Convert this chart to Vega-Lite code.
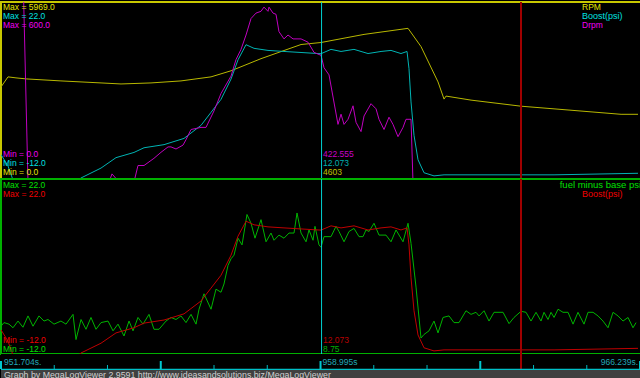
{
  "$schema": "https://vega.github.io/schema/vega-lite/v6.json",
  "background": "black",
  "padding": 0,
  "spacing": 0,
  "bounds": "flush",
  "config": {
    "view": {"stroke": null}
  },
  "datasets": {
    "rpm": [
      {"time": 951.704, "rpm": 3103}, {"time": 951.863, "rpm": 3444}, {"time": 952.045, "rpm": 3410},
      {"time": 952.273, "rpm": 3376}, {"time": 953.068, "rpm": 3308}, {"time": 953.979, "rpm": 3240},
      {"time": 954.434, "rpm": 3205}, {"time": 955.116, "rpm": 3240}, {"time": 955.798, "rpm": 3308},
      {"time": 956.481, "rpm": 3444}, {"time": 956.936, "rpm": 3649}, {"time": 957.163, "rpm": 3785},
      {"time": 957.618, "rpm": 4058}, {"time": 958.073, "rpm": 4297}, {"time": 958.528, "rpm": 4535},
      {"time": 958.983, "rpm": 4603}, {"time": 959.961, "rpm": 4876}, {"time": 960.962, "rpm": 5081},
      {"time": 961.257, "rpm": 4467}, {"time": 961.644, "rpm": 3274}, {"time": 961.781, "rpm": 2694},
      {"time": 961.826, "rpm": 2796}, {"time": 962.395, "rpm": 2660}, {"time": 963.532, "rpm": 2455},
      {"time": 964.669, "rpm": 2319}, {"time": 965.807, "rpm": 2182}, {"time": 966.193, "rpm": 2182}
    ],
    "boost": [
      {"time": 951.704, "boost": -7.3}, {"time": 951.863, "boost": -9.5}, {"time": 951.977, "boost": -12.2},
      {"time": 952.386, "boost": -13.2}, {"time": 952.955, "boost": -13.5}, {"time": 953.41, "boost": -12.6},
      {"time": 953.524, "boost": -11.8}, {"time": 953.979, "boost": -9.9}, {"time": 954.32, "boost": -7.9},
      {"time": 954.729, "boost": -6.9}, {"time": 954.957, "boost": -6.0}, {"time": 955.412, "boost": -5.4},
      {"time": 955.867, "boost": -4.2}, {"time": 956.253, "boost": -1.7}, {"time": 956.481, "boost": 0.8},
      {"time": 956.708, "boost": 3.3}, {"time": 956.936, "boost": 7.2}, {"time": 957.095, "boost": 10.9},
      {"time": 957.277, "boost": 13.8}, {"time": 957.459, "boost": 13.1}, {"time": 957.777, "boost": 12.7},
      {"time": 958.141, "boost": 12.5}, {"time": 958.528, "boost": 12.3}, {"time": 958.915, "boost": 12.1},
      {"time": 958.983, "boost": 12.07}, {"time": 959.21, "boost": 12.9}, {"time": 959.438, "boost": 12.5},
      {"time": 959.733, "boost": 12.9}, {"time": 960.052, "boost": 12.1}, {"time": 960.348, "boost": 12.5},
      {"time": 960.575, "boost": 12.7}, {"time": 960.802, "boost": 12.1}, {"time": 960.939, "boost": 12.5},
      {"time": 960.984, "boost": 9.2}, {"time": 961.03, "boost": 2.8}, {"time": 961.098, "boost": -3.6},
      {"time": 961.189, "boost": -8.3}, {"time": 961.326, "boost": -10.8}, {"time": 961.553, "boost": -11.4},
      {"time": 961.781, "boost": -11.2}, {"time": 962.781, "boost": -11.2}, {"time": 964.283, "boost": -11.2},
      {"time": 965.579, "boost": -11.0}, {"time": 966.193, "boost": -10.9}
    ],
    "drpm": [
      {"time": 952.204, "drpm": 700}, {"time": 952.318, "drpm": 0}, {"time": 954.161, "drpm": 0},
      {"time": 954.229, "drpm": 27}, {"time": 954.388, "drpm": 0}, {"time": 954.729, "drpm": 0},
      {"time": 954.82, "drpm": 55}, {"time": 954.957, "drpm": 55}, {"time": 955.184, "drpm": 79},
      {"time": 955.343, "drpm": 99}, {"time": 955.503, "drpm": 117}, {"time": 955.571, "drpm": 117},
      {"time": 955.685, "drpm": 110}, {"time": 955.844, "drpm": 123}, {"time": 955.912, "drpm": 141},
      {"time": 956.026, "drpm": 175}, {"time": 956.253, "drpm": 182}, {"time": 956.367, "drpm": 182},
      {"time": 956.549, "drpm": 237}, {"time": 956.708, "drpm": 295}, {"time": 956.936, "drpm": 353},
      {"time": 957.049, "drpm": 408}, {"time": 957.163, "drpm": 442}, {"time": 957.277, "drpm": 490},
      {"time": 957.391, "drpm": 545}, {"time": 957.504, "drpm": 563}, {"time": 957.618, "drpm": 569},
      {"time": 957.686, "drpm": 583}, {"time": 957.777, "drpm": 569}, {"time": 957.8, "drpm": 583},
      {"time": 957.891, "drpm": 563}, {"time": 957.959, "drpm": 559}, {"time": 958.027, "drpm": 501},
      {"time": 958.141, "drpm": 477}, {"time": 958.232, "drpm": 490}, {"time": 958.346, "drpm": 477},
      {"time": 958.528, "drpm": 477}, {"time": 958.687, "drpm": 466}, {"time": 958.824, "drpm": 432},
      {"time": 958.937, "drpm": 425}, {"time": 958.983, "drpm": 422.555}, {"time": 959.051, "drpm": 381},
      {"time": 959.165, "drpm": 357}, {"time": 959.369, "drpm": 192}, {"time": 959.438, "drpm": 226},
      {"time": 959.506, "drpm": 192}, {"time": 959.597, "drpm": 209}, {"time": 959.711, "drpm": 254},
      {"time": 959.779, "drpm": 199}, {"time": 959.893, "drpm": 168}, {"time": 959.961, "drpm": 220},
      {"time": 960.12, "drpm": 261}, {"time": 960.234, "drpm": 244}, {"time": 960.302, "drpm": 209},
      {"time": 960.416, "drpm": 175}, {"time": 960.529, "drpm": 216}, {"time": 960.62, "drpm": 192},
      {"time": 960.734, "drpm": 151}, {"time": 960.848, "drpm": 182}, {"time": 960.916, "drpm": 209},
      {"time": 961.03, "drpm": 209}, {"time": 961.075, "drpm": 0}, {"time": 966.193, "drpm": 0}
    ],
    "fuel": [
      {"time": 951.704, "fuel": -6.6}, {"time": 951.772, "fuel": -5.9}, {"time": 951.886, "fuel": -6.2},
      {"time": 951.977, "fuel": -6.9}, {"time": 952.091, "fuel": -5.6}, {"time": 952.204, "fuel": -6.8},
      {"time": 952.318, "fuel": -4.6}, {"time": 952.432, "fuel": -6.6}, {"time": 952.568, "fuel": -4.6},
      {"time": 952.682, "fuel": -5.6}, {"time": 952.773, "fuel": -5.3}, {"time": 952.91, "fuel": -6.2},
      {"time": 953.068, "fuel": -5.6}, {"time": 953.183, "fuel": -6.2}, {"time": 953.342, "fuel": -4.3},
      {"time": 953.41, "fuel": -9.2}, {"time": 953.524, "fuel": -5.3}, {"time": 953.637, "fuel": -7.2},
      {"time": 953.751, "fuel": -4.9}, {"time": 953.865, "fuel": -7.2}, {"time": 953.979, "fuel": -5.9},
      {"time": 954.138, "fuel": -5.6}, {"time": 954.252, "fuel": -7.5}, {"time": 954.365, "fuel": -6.2},
      {"time": 954.502, "fuel": -8.5}, {"time": 954.616, "fuel": -5.6}, {"time": 954.707, "fuel": -7.5},
      {"time": 954.82, "fuel": -4.9}, {"time": 954.934, "fuel": -6.2}, {"time": 955.07, "fuel": -4.3},
      {"time": 955.184, "fuel": -7.2}, {"time": 955.298, "fuel": -7.2}, {"time": 955.457, "fuel": -5.6},
      {"time": 955.571, "fuel": -4.9}, {"time": 955.685, "fuel": -5.3}, {"time": 955.798, "fuel": -4.6},
      {"time": 955.912, "fuel": -5.9}, {"time": 956.026, "fuel": -4.3}, {"time": 956.14, "fuel": -6.2},
      {"time": 956.208, "fuel": -3.3}, {"time": 956.321, "fuel": -0.3}, {"time": 956.481, "fuel": -3.3},
      {"time": 956.594, "fuel": 0.6}, {"time": 956.708, "fuel": 0.0}, {"time": 956.776, "fuel": 1.6},
      {"time": 956.867, "fuel": 5.2}, {"time": 956.936, "fuel": 6.5}, {"time": 957.004, "fuel": 7.2},
      {"time": 957.095, "fuel": 10.5}, {"time": 957.186, "fuel": 9.2}, {"time": 957.299, "fuel": 15.1},
      {"time": 957.391, "fuel": 13.4}, {"time": 957.481, "fuel": 10.5}, {"time": 957.618, "fuel": 14.1},
      {"time": 957.732, "fuel": 9.8}, {"time": 957.845, "fuel": 11.5}, {"time": 957.914, "fuel": 10.1},
      {"time": 958.027, "fuel": 11.1}, {"time": 958.141, "fuel": 10.5}, {"time": 958.255, "fuel": 11.5},
      {"time": 958.369, "fuel": 11.5}, {"time": 958.437, "fuel": 15.4}, {"time": 958.528, "fuel": 11.5},
      {"time": 958.642, "fuel": 9.8}, {"time": 958.71, "fuel": 12.1}, {"time": 958.801, "fuel": 10.1},
      {"time": 958.846, "fuel": 12.8}, {"time": 958.937, "fuel": 9.2}, {"time": 958.983, "fuel": 8.75},
      {"time": 959.051, "fuel": 10.8}, {"time": 959.21, "fuel": 10.8}, {"time": 959.324, "fuel": 12.8},
      {"time": 959.392, "fuel": 11.8}, {"time": 959.506, "fuel": 9.8}, {"time": 959.62, "fuel": 11.8},
      {"time": 959.733, "fuel": 12.4}, {"time": 959.847, "fuel": 10.8}, {"time": 959.938, "fuel": 10.8},
      {"time": 960.006, "fuel": 12.1}, {"time": 960.075, "fuel": 11.8}, {"time": 960.188, "fuel": 13.4},
      {"time": 960.302, "fuel": 11.1}, {"time": 960.461, "fuel": 11.1}, {"time": 960.575, "fuel": 9.8},
      {"time": 960.689, "fuel": 12.1}, {"time": 960.848, "fuel": 9.8}, {"time": 960.962, "fuel": 13.4},
      {"time": 961.03, "fuel": 9.5}, {"time": 961.144, "fuel": 1.0}, {"time": 961.257, "fuel": -8.9},
      {"time": 961.326, "fuel": -8.2}, {"time": 961.439, "fuel": -7.5}, {"time": 961.553, "fuel": -5.6},
      {"time": 961.644, "fuel": -7.9}, {"time": 961.758, "fuel": -4.9}, {"time": 961.894, "fuel": -4.6},
      {"time": 962.008, "fuel": -5.9}, {"time": 962.122, "fuel": -5.9}, {"time": 962.281, "fuel": -3.6},
      {"time": 962.395, "fuel": -4.3}, {"time": 962.508, "fuel": -3.9}, {"time": 962.577, "fuel": -4.6},
      {"time": 962.69, "fuel": -3.6}, {"time": 962.804, "fuel": -5.6}, {"time": 962.918, "fuel": -3.9},
      {"time": 963.123, "fuel": -3.9}, {"time": 963.259, "fuel": -6.1}, {"time": 963.373, "fuel": -4.9},
      {"time": 963.532, "fuel": -3.7}, {"time": 963.646, "fuel": -3.9}, {"time": 963.759, "fuel": -5.6},
      {"time": 963.873, "fuel": -3.9}, {"time": 963.987, "fuel": -5.6}, {"time": 964.055, "fuel": -3.9},
      {"time": 964.146, "fuel": -5.3}, {"time": 964.214, "fuel": -3.9}, {"time": 964.283, "fuel": -4.9},
      {"time": 964.374, "fuel": -3.3}, {"time": 964.487, "fuel": -3.9}, {"time": 964.601, "fuel": -3.9},
      {"time": 964.715, "fuel": -6.2}, {"time": 964.828, "fuel": -3.9}, {"time": 964.965, "fuel": -6.2},
      {"time": 965.056, "fuel": -3.9}, {"time": 965.17, "fuel": -3.9}, {"time": 965.283, "fuel": -4.6},
      {"time": 965.397, "fuel": -5.6}, {"time": 965.511, "fuel": -6.9}, {"time": 965.625, "fuel": -3.9},
      {"time": 965.738, "fuel": -4.6}, {"time": 965.852, "fuel": -5.6}, {"time": 965.966, "fuel": -4.9},
      {"time": 966.079, "fuel": -6.9}, {"time": 966.148, "fuel": -5.9}
    ],
    "majorTicks": [
      {"time": 951.704}, {"time": 955.338}, {"time": 958.972}, {"time": 962.605}, {"time": 966.239}
    ],
    "minorTicks": [
      {"time": 952.915}, {"time": 954.126}, {"time": 956.549}, {"time": 957.76},
      {"time": 960.183}, {"time": 961.394}, {"time": 963.817}, {"time": 965.028}
    ]
  },
  "vconcat": [
    {
      "width": 640,
      "height": 177,
      "view": {"fill": "black", "stroke": "#c8c800", "strokeWidth": 2},
      "resolve": {"scale": {"y": "independent"}},
      "encoding": {
        "x": {"field": "time", "type": "quantitative", "scale": {"domain": [951.704, 966.261], "nice": false}, "axis": null}
      },
      "layer": [
        {"data": {"name": "rpm"}, "mark": {"type": "line", "color": "#b8b800", "strokeWidth": 1, "clip": true},
         "encoding": {"y": {"field": "rpm", "type": "quantitative", "scale": {"domain": [0, 5969], "nice": false}, "axis": null}}},
        {"data": {"name": "boost"}, "mark": {"type": "line", "color": "#00b4b4", "strokeWidth": 1, "clip": true},
         "encoding": {"y": {"field": "boost", "type": "quantitative", "scale": {"domain": [-12, 22], "nice": false}, "axis": null}}},
        {"data": {"name": "drpm"}, "mark": {"type": "line", "color": "#c000c0", "strokeWidth": 1, "clip": true},
         "encoding": {"y": {"field": "drpm", "type": "quantitative", "scale": {"domain": [0, 600], "nice": false, "range": [180, 0]}, "axis": null}}},
        {"data": {"values": [{"time": 958.995}]}, "mark": {"type": "rule", "color": "#00d0d0", "strokeWidth": 1}, "encoding": {}},
        {"data": {"values": [{"time": 963.532}]}, "mark": {"type": "rule", "color": "#a00000", "strokeWidth": 2}, "encoding": {}},
        {"data": {"values": [{"time": 951.704, "label": "Max = 5969.0"}]}, "mark": {"type": "text", "font": "Liberation Sans", "fontSize": 8.5, "align": "left", "baseline": "alphabetic", "dx": 2, "dy": 8, "color": "#e8e800"},
         "encoding": {"y": {"datum": 5969, "scale": {"domain": [0, 5969], "nice": false}, "axis": null}, "text": {"field": "label"}}},
        {"data": {"values": [{"time": 951.704, "label": "Max = 22.0"}]}, "mark": {"type": "text", "font": "Liberation Sans", "fontSize": 8.5, "align": "left", "baseline": "alphabetic", "dx": 2, "dy": 17, "color": "#00e0e0"},
         "encoding": {"y": {"datum": 22, "scale": {"domain": [-12, 22], "nice": false}, "axis": null}, "text": {"field": "label"}}},
        {"data": {"values": [{"time": 951.704, "label": "Max = 600.0"}]}, "mark": {"type": "text", "font": "Liberation Sans", "fontSize": 8.5, "align": "left", "baseline": "alphabetic", "dx": 2, "dy": 26, "color": "#f000f0"},
         "encoding": {"y": {"datum": 600, "scale": {"domain": [0, 600], "nice": false}, "axis": null}, "text": {"field": "label"}}},
        {"data": {"values": [{"time": 951.704, "label": "Min = 0.0"}]}, "mark": {"type": "text", "font": "Liberation Sans", "fontSize": 8.5, "align": "left", "baseline": "alphabetic", "dx": 2, "dy": -22, "color": "#f000f0"},
         "encoding": {"y": {"datum": 0, "scale": {"domain": [0, 600], "nice": false}, "axis": null}, "text": {"field": "label"}}},
        {"data": {"values": [{"time": 951.704, "label": "Min = -12.0"}]}, "mark": {"type": "text", "font": "Liberation Sans", "fontSize": 8.5, "align": "left", "baseline": "alphabetic", "dx": 2, "dy": -13, "color": "#00e0e0"},
         "encoding": {"y": {"datum": -12, "scale": {"domain": [-12, 22], "nice": false}, "axis": null}, "text": {"field": "label"}}},
        {"data": {"values": [{"time": 951.704, "label": "Min = 0.0"}]}, "mark": {"type": "text", "font": "Liberation Sans", "fontSize": 8.5, "align": "left", "baseline": "alphabetic", "dx": 2, "dy": -4, "color": "#e8e800"},
         "encoding": {"y": {"datum": 0, "scale": {"domain": [0, 5969], "nice": false}, "axis": null}, "text": {"field": "label"}}},
        {"data": {"values": [{"time": 958.995, "label": "422.555"}]}, "mark": {"type": "text", "font": "Liberation Sans", "fontSize": 8.5, "align": "left", "baseline": "alphabetic", "dx": 1.5, "dy": -22, "color": "#c800c8"},
         "encoding": {"y": {"datum": 0, "scale": {"domain": [0, 600], "nice": false}, "axis": null}, "text": {"field": "label"}}},
        {"data": {"values": [{"time": 958.995, "label": "12.073"}]}, "mark": {"type": "text", "font": "Liberation Sans", "fontSize": 8.5, "align": "left", "baseline": "alphabetic", "dx": 1.5, "dy": -13, "color": "#00b0b0"},
         "encoding": {"y": {"datum": -12, "scale": {"domain": [-12, 22], "nice": false}, "axis": null}, "text": {"field": "label"}}},
        {"data": {"values": [{"time": 958.995, "label": "4603"}]}, "mark": {"type": "text", "font": "Liberation Sans", "fontSize": 8.5, "align": "left", "baseline": "alphabetic", "dx": 1.5, "dy": -4, "color": "#c0c000"},
         "encoding": {"y": {"datum": 0, "scale": {"domain": [0, 5969], "nice": false}, "axis": null}, "text": {"field": "label"}}},
        {"data": {"values": [{"time": 966.239, "label": "RPM"}]}, "mark": {"type": "text", "font": "Liberation Sans", "fontSize": 8.5, "align": "left", "baseline": "alphabetic", "dx": -58, "dy": 8, "color": "#e8e800"},
         "encoding": {"y": {"datum": 5969, "scale": {"domain": [0, 5969], "nice": false}, "axis": null}, "text": {"field": "label"}}},
        {"data": {"values": [{"time": 966.239, "label": "Boost(psi)"}]}, "mark": {"type": "text", "font": "Liberation Sans", "fontSize": 9, "align": "left", "baseline": "alphabetic", "dx": -58, "dy": 17, "color": "#00e0e0"},
         "encoding": {"y": {"datum": 22, "scale": {"domain": [-12, 22], "nice": false}, "axis": null}, "text": {"field": "label"}}},
        {"data": {"values": [{"time": 966.239, "label": "Drpm"}]}, "mark": {"type": "text", "font": "Liberation Sans", "fontSize": 8.5, "align": "left", "baseline": "alphabetic", "dx": -58, "dy": 26, "color": "#f000f0"},
         "encoding": {"y": {"datum": 600, "scale": {"domain": [0, 600], "nice": false}, "axis": null}, "text": {"field": "label"}}}
      ]
    },
    {
      "width": 640,
      "height": 175,
      "view": {"fill": "black", "stroke": "#00b000", "strokeWidth": 2},
      "encoding": {
        "x": {"field": "time", "type": "quantitative", "scale": {"domain": [951.704, 966.261], "nice": false}, "axis": null}
      },
      "layer": [
        {"data": {"name": "fuel"}, "mark": {"type": "line", "color": "#00b400", "strokeWidth": 1, "clip": true},
         "encoding": {"y": {"field": "fuel", "type": "quantitative", "scale": {"domain": [-12, 22], "nice": false}, "axis": null}}},
        {"data": {"name": "boost"}, "mark": {"type": "line", "color": "#c00000", "strokeWidth": 1, "clip": true},
         "encoding": {"y": {"field": "boost", "type": "quantitative", "scale": {"domain": [-12, 22], "nice": false}, "axis": null}}},
        {"data": {"values": [{"time": 958.995}]}, "mark": {"type": "rule", "color": "#00d0d0", "strokeWidth": 1}, "encoding": {}},
        {"data": {"values": [{"time": 963.532}]}, "mark": {"type": "rule", "color": "#a00000", "strokeWidth": 2}, "encoding": {}},
        {"data": {"values": [{"time": 951.704, "label": "Max = 22.0"}]}, "mark": {"type": "text", "font": "Liberation Sans", "fontSize": 8.5, "align": "left", "baseline": "alphabetic", "dx": 2, "dy": 9, "color": "#00e000"},
         "encoding": {"y": {"datum": 22}, "text": {"field": "label"}}},
        {"data": {"values": [{"time": 951.704, "label": "Max = 22.0"}]}, "mark": {"type": "text", "font": "Liberation Sans", "fontSize": 8.5, "align": "left", "baseline": "alphabetic", "dx": 2, "dy": 18, "color": "#f00000"},
         "encoding": {"y": {"datum": 22}, "text": {"field": "label"}}},
        {"data": {"values": [{"time": 951.704, "label": "Min = -12.0"}]}, "mark": {"type": "text", "font": "Liberation Sans", "fontSize": 8.5, "align": "left", "baseline": "alphabetic", "dx": 2, "dy": -11, "color": "#f00000"},
         "encoding": {"y": {"datum": -12}, "text": {"field": "label"}}},
        {"data": {"values": [{"time": 951.704, "label": "Min = -12.0"}]}, "mark": {"type": "text", "font": "Liberation Sans", "fontSize": 8.5, "align": "left", "baseline": "alphabetic", "dx": 2, "dy": -2, "color": "#00e000"},
         "encoding": {"y": {"datum": -12}, "text": {"field": "label"}}},
        {"data": {"values": [{"time": 958.995, "label": "12.073"}]}, "mark": {"type": "text", "font": "Liberation Sans", "fontSize": 8.5, "align": "left", "baseline": "alphabetic", "dx": 1.5, "dy": -11, "color": "#b80000"},
         "encoding": {"y": {"datum": -12}, "text": {"field": "label"}}},
        {"data": {"values": [{"time": 958.995, "label": "8.75"}]}, "mark": {"type": "text", "font": "Liberation Sans", "fontSize": 8.5, "align": "left", "baseline": "alphabetic", "dx": 1.5, "dy": -2, "color": "#00b000"},
         "encoding": {"y": {"datum": -12}, "text": {"field": "label"}}},
        {"data": {"values": [{"time": 966.239, "label": "fuel minus base psi"}]}, "mark": {"type": "text", "font": "Liberation Sans", "fontSize": 9.5, "align": "right", "baseline": "alphabetic", "dx": 1, "dy": 9, "color": "#00e000"},
         "encoding": {"y": {"datum": 22}, "text": {"field": "label"}}},
        {"data": {"values": [{"time": 966.239, "label": "Boost(psi)"}]}, "mark": {"type": "text", "font": "Liberation Sans", "fontSize": 9, "align": "left", "baseline": "alphabetic", "dx": -58, "dy": 18, "color": "#f00000"},
         "encoding": {"y": {"datum": 22}, "text": {"field": "label"}}}
      ]
    },
    {
      "width": 640,
      "height": 16,
      "view": {"fill": "black", "stroke": null},
      "encoding": {
        "x": {"field": "time", "type": "quantitative", "scale": {"domain": [951.704, 966.261], "nice": false}, "axis": null}
      },
      "layer": [
        {"data": {"name": "minorTicks"}, "mark": {"type": "rule", "color": "#00b8c0", "strokeWidth": 1},
         "encoding": {"y": {"datum": 1, "scale": {"domain": [0, 16], "nice": false}, "axis": null}, "y2": {"datum": 5}}},
        {"data": {"name": "majorTicks"}, "mark": {"type": "rule", "color": "#00c8d0", "strokeWidth": 2},
         "encoding": {"y": {"datum": 1, "scale": {"domain": [0, 16], "nice": false}, "axis": null}, "y2": {"datum": 9}}},
        {"data": {"values": [{"time": 963.532}]}, "mark": {"type": "rule", "color": "#a00000", "strokeWidth": 2}, "encoding": {}},
        {"data": {"values": [{"start": 951.704, "end": 966.261}]}, "mark": {"type": "rule", "color": "#00c0c8", "strokeWidth": 1.5},
         "encoding": {"x": {"field": "start", "type": "quantitative"}, "x2": {"field": "end"}, "y": {"datum": 0.6, "scale": {"domain": [0, 16], "nice": false}, "axis": null}}},
        {"data": {"values": [{"time": 951.704, "label": "951.704s."}]}, "mark": {"type": "text", "font": "Liberation Sans", "fontSize": 8.5, "align": "left", "baseline": "alphabetic", "dx": 3, "dy": 11, "color": "#20a8b8"},
         "encoding": {"y": {"datum": 16, "scale": {"domain": [0, 16], "nice": false}, "axis": null}, "text": {"field": "label"}}},
        {"data": {"values": [{"time": 958.995, "label": "958.995s"}]}, "mark": {"type": "text", "font": "Liberation Sans", "fontSize": 8.5, "align": "left", "baseline": "alphabetic", "dx": 1, "dy": 11, "color": "#20a8b8"},
         "encoding": {"y": {"datum": 16, "scale": {"domain": [0, 16], "nice": false}, "axis": null}, "text": {"field": "label"}}},
        {"data": {"values": [{"time": 966.239, "label": "966.239s."}]}, "mark": {"type": "text", "font": "Liberation Sans", "fontSize": 8.5, "align": "right", "baseline": "alphabetic", "dx": -2, "dy": 11, "color": "#20a8b8"},
         "encoding": {"y": {"datum": 16, "scale": {"domain": [0, 16], "nice": false}, "axis": null}, "text": {"field": "label"}}}
      ]
    },
    {
      "width": 640,
      "height": 10,
      "view": {"fill": "#404040", "stroke": null},
      "encoding": {
        "x": {"field": "time", "type": "quantitative", "scale": {"domain": [951.704, 966.261], "nice": false}, "axis": null}
      },
      "layer": [
        {"data": {"values": [{"time": 951.704, "label": "Graph by MegaLogViewer 2.9591 http://www.ideasandsolutions.biz/MegaLogViewer"}]},
         "mark": {"type": "text", "font": "Liberation Sans", "fontSize": 8.8, "align": "left", "baseline": "alphabetic", "dx": 3, "dy": 7.5, "color": "#d0d0d0"},
         "encoding": {"y": {"datum": 10, "scale": {"domain": [0, 10], "nice": false}, "axis": null}, "text": {"field": "label"}}}
      ]
    }
  ]
}
